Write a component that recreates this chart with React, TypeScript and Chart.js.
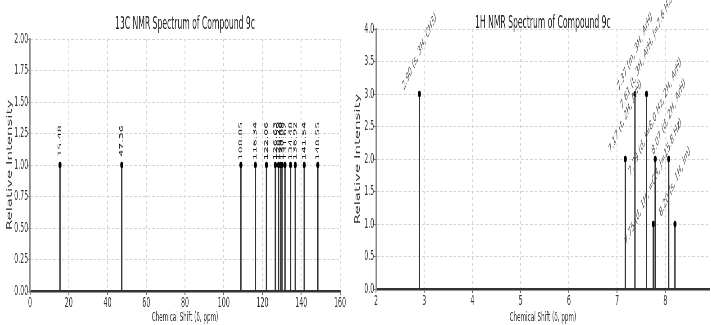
import React, { useEffect, useRef } from "react";
import { Chart, registerables } from "chart.js";

Chart.register(...registerables);

// ---------- data ----------
const c13Title = "13C NMR Spectrum of Compound 9c";
const c13Shifts = [15.48, 47.36, 108.85, 116.34, 122.06, 126.63, 128.29, 129.4, 130.08, 131.62, 134.48, 136.92, 141.54, 148.55];
const c13Intensity = [1, 1, 1, 1, 1, 1, 1, 1, 1, 1, 1, 1, 1, 1];
const c13Labels = ["15.48", "47.36", "108.85", "116.34", "122.06", "126.63", "128.29", "129.40", "130.08", "131.62", "134.48", "136.92", "141.54", "148.55"];

const h1Title = "1H NMR Spectrum of Compound 9c";
const h1Shifts = [2.9, 7.17, 7.37, 7.61, 7.75, 7.79, 8.07, 8.2];
const h1Intensity = [3, 2, 3, 3, 1, 2, 2, 1];
const h1Labels = [
  "2.90 (s, 3H, CH3)",
  "7.17 (t, 2H, ArH)",
  "7.37 (m, 3H, ArH)",
  "7.61 (t, 3H, ArH, J=7.6 Hz)",
  "7.75 (d, 1H, =CH, J=15.8 Hz)",
  "7.79 (d, J=8.0 Hz, 2H, ArH)",
  "8.07 (d, 2H, ArH)",
  "8.20 (s, 1H, Im)",
];

const xTitle = "Chemical Shift (δ, ppm)";
const yTitle = "Relative Intensity";

// ---------- layout ----------
const SQ = 0.45; // horizontal squeeze of the reference picture
const FONT = "DejaVu Sans";

type Spec = {
  title: string;
  shifts: number[];
  heights: number[];
  labels: string[];
  xMin: number;
  xMax: number;
  xStep: number;
  yMax: number;
  yStep: number;
  yDigits: number;
  screenLeft: number;
  screenRight: number;
  plotLeft: number;
  plotRight: number;
  plotTop: number;
  plotBottom: number;
  titleY: number;
  labelOffset: number;
  labelAngle: number;
  labelFont: string;
  labelColor: string;
};

const HEIGHT = 325;

function NmrChart({ spec }: { spec: Spec }) {
  const ref = useRef<HTMLCanvasElement | null>(null);
  const innerW = (spec.screenRight - spec.screenLeft) / SQ;

  useEffect(() => {
    if (!ref.current) return;
    const yAxisW = (spec.plotLeft - spec.screenLeft) / SQ;
    const padRight = (spec.screenRight - spec.plotRight) / SQ;

    const datasets = spec.shifts.map((s, i) => ({
      data: [
        { x: s, y: 0 },
        { x: s, y: spec.heights[i] },
      ],
      showLine: true,
      borderColor: "#333",
      borderWidth: 3,
      pointRadius: [0, 3.3],
      pointBackgroundColor: "#000",
      pointBorderColor: "#000",
      pointBorderWidth: 0,
      clip: false as any,
    }));

    const labelPlugin = {
      id: "peakLabels",
      afterDatasetsDraw(chart: any) {
        const { ctx, scales } = chart;
        const x = scales.x;
        const y = scales.y;
        ctx.save();
        ctx.font = spec.labelFont;
        ctx.fillStyle = spec.labelColor;
        ctx.textAlign = "center";
        ctx.textBaseline = "middle";
        spec.shifts.forEach((s, i) => {
          const px = x.getPixelForValue(s);
          const py = y.getPixelForValue(spec.heights[i] + spec.labelOffset);
          ctx.save();
          ctx.translate(px, py);
          ctx.rotate(spec.labelAngle);
          ctx.fillText(spec.labels[i], 0, 0);
          ctx.restore();
        });
        ctx.restore();
      },
    };

    const titlePlugin = {
      id: "centerTitle",
      afterDraw(chart: any) {
        const { ctx, chartArea } = chart;
        ctx.save();
        ctx.font = `17px "${FONT}"`;
        ctx.fillStyle = "#222";
        ctx.textAlign = "center";
        ctx.textBaseline = "middle";
        ctx.fillText(spec.title, (chartArea.left + chartArea.right) / 2, spec.titleY);
        ctx.restore();
      },
    };

    const chart = new Chart(ref.current, {
      type: "scatter",
      data: { datasets: datasets as any },
      options: {
        animation: false,
        responsive: true,
        maintainAspectRatio: false,
        events: [],
        layout: { padding: { top: spec.plotTop, right: padRight, left: 0, bottom: 0 } },
        plugins: { legend: { display: false }, tooltip: { enabled: false }, title: { display: false } },
        scales: {
          x: {
            type: "linear",
            min: spec.xMin,
            max: spec.xMax,
            afterFit(scale: any) {
              scale.height = HEIGHT - spec.plotBottom;
            },
            ticks: {
              stepSize: spec.xStep,
              includeBounds: false,
              autoSkip: false,
              maxRotation: 0,
              padding: 0,
              color: "#333",
              font: { family: FONT, size: 14 },
            },
            grid: {
              color: "#d4d4d4",
              lineWidth: 2,
              tickLength: 4,
              tickColor: "#666",
              tickWidth: 2,
            },
            border: { display: true, color: "#333", width: 2.5, dash: [3, 3] },
            title: {
              display: true,
              text: xTitle,
              color: "#333",
              font: { family: FONT, size: 12.5 },
              padding: { top: 0, bottom: 0 },
            },
          },
          y: {
            type: "linear",
            min: 0,
            max: spec.yMax,
            afterFit(scale: any) {
              scale.width = yAxisW;
            },
            ticks: {
              stepSize: spec.yStep,
              padding: 0,
              color: "#333",
              font: { family: FONT, size: 14 },
              callback: (v: any) => Number(v).toFixed(spec.yDigits),
            },
            grid: {
              color: "#d4d4d4",
              lineWidth: 1,
              tickLength: 4,
              tickColor: "#666",
            },
            border: { display: true, color: "#8a8a8a", width: 3, dash: [6, 4] },
            title: {
              display: true,
              text: yTitle,
              color: "#333",
              font: { family: FONT, size: 15 },
              padding: { top: 13, bottom: 0 },
            },
          },
        },
      },
      plugins: [labelPlugin, titlePlugin],
    });
    return () => chart.destroy();
  }, [spec]);

  return (
    <div
      style={{
        position: "absolute",
        left: spec.screenLeft,
        top: 0,
        width: innerW,
        height: HEIGHT,
        transform: `scaleX(${SQ})`,
        transformOrigin: "0 0",
      }}
    >
      <canvas ref={ref} />
    </div>
  );
}

const c13Spec: Spec = {
  title: c13Title,
  shifts: c13Shifts,
  heights: c13Intensity,
  labels: c13Labels,
  xMin: 0,
  xMax: 160,
  xStep: 20,
  yMax: 2,
  yStep: 0.25,
  yDigits: 2,
  screenLeft: 0,
  screenRight: 348,
  plotLeft: 30,
  plotRight: 340,
  plotTop: 39,
  plotBottom: 291,
  titleY: 25,
  labelOffset: 0.19,
  labelAngle: -Math.PI / 2,
  labelFont: `11px "${FONT}"`,
  labelColor: "#111",
};

const h1Spec: Spec = {
  title: h1Title,
  shifts: h1Shifts,
  heights: h1Intensity,
  labels: h1Labels,
  xMin: 2,
  xMax: 8.92,
  xStep: 1,
  yMax: 4,
  yStep: 0.5,
  yDigits: 1,
  screenLeft: 348,
  screenRight: 711,
  plotLeft: 376,
  plotRight: 711,
  plotTop: 29,
  plotBottom: 289,
  titleY: 24,
  labelOffset: 0.65,
  labelAngle: -Math.PI / 4,
  labelFont: `italic 12px "${FONT}"`,
  labelColor: "#555",
};

export default function App() {
  return (
    <div
      style={{
        position: "fixed",
        left: 0,
        top: 0,
        width: 711,
        height: HEIGHT,
        overflow: "hidden",
        background: "#fff",
      }}
    >
      <NmrChart spec={c13Spec} />
      <NmrChart spec={h1Spec} />
    </div>
  );
}
